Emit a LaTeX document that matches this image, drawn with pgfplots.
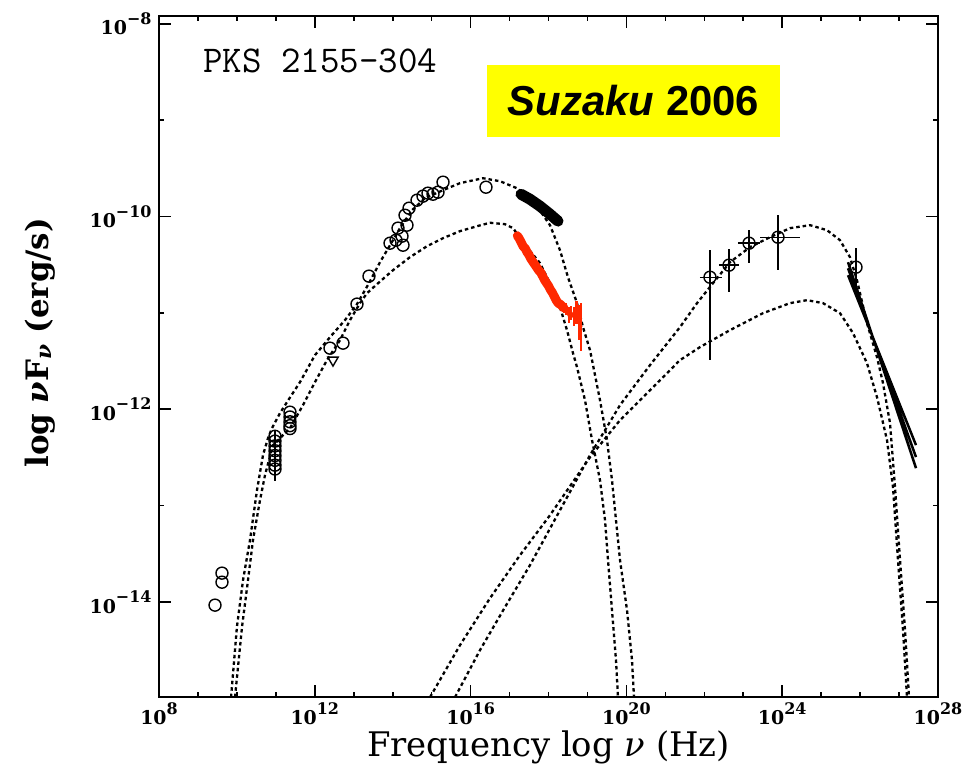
\documentclass[border=0pt]{standalone}
\usepackage{pgfplots}
\pgfplotsset{compat=1.18}
\usepackage{fontspec}
\setmainfont{DejaVu Serif}
\newfontfamily\labelsans{Liberation Sans}
\definecolor{xrayred}{RGB}{255,40,0}
\definecolor{boxyellow}{RGB}{255,255,0}
% power-of-ten tick label: bold "10" with a large raised exponent, always in text mode
\newcommand{\powten}[1]{\hbox{\fontsize{19}{21}\selectfont\bfseries 10\raise 10.5bp\hbox{\fontsize{16}{16}\selectfont\bfseries #1}}}
\pgfplotsset{
  sedmodel/.style={black, line width=2.3bp, dash pattern=on 3.5bp off 3bp, mark=none},
  sedpoint/.style={only marks, mark=o, mark size=6bp, mark options={line width=1.4bp, black}},
}

\begin{document}
\begin{tikzpicture}
\path[use as bounding box] (0,0) rectangle (975bp,770bp);
\begin{axis}[
  at={(159bp,73bp)}, anchor=south west,
  width=779bp, height=681bp, scale only axis,
  xmin=8, xmax=28, ymin=-14.985, ymax=-7.92,
  xtick={8,12,16,20,24,28},
  xticklabels={\powten{8},\powten{12},\powten{16},\powten{20},\powten{24},\powten{28}},
  minor xtick={9,10,11,13,14,15,17,18,19,21,22,23,25,26,27},
  ytick={-14,-12,-10,-8},
  yticklabels={\powten{−14},\powten{−12},\powten{−10},\powten{−8}},
  minor ytick={-13,-11,-9},
  major tick length=12bp, minor tick length=5bp,
  tick style={line width=1.6bp, black},
  axis line style={line width=1.6bp},
  xticklabel style={yshift=-2bp},
  yticklabel style={xshift=-4bp},
  xlabel={Frequency log \textit{ν} (Hz)},
  xlabel style={font=\fontsize{34}{38}\selectfont, inner sep=0pt, at={(axis description cs:0.5,-0.0735)}, anchor=center},
  ylabel={log \textit{ν}F\textsubscript{\textit{ν}} (erg/s)},
  ylabel style={font=\bfseries\fontsize{31}{35}\selectfont, at={(axis description cs:-0.153,0.52)}, anchor=center},
  unbounded coords=jump,
]

% synchrotron models (high and low state)
\addplot[sedmodel] table {
lx ly
9.850 -14.987
10.000 -14.260
10.157 -13.773
10.336 -13.358
10.516 -12.839
10.670 -12.476
10.798 -12.300
10.901 -12.196
11.106 -12.040
11.286 -11.926
11.620 -11.718
12.005 -11.438
12.390 -11.252
12.775 -11.075
13.083 -10.909
13.391 -10.692
13.674 -10.474
13.931 -10.298
14.187 -10.121
14.496 -9.935
14.829 -9.810
15.292 -9.727
15.728 -9.654
16.318 -9.603
16.755 -9.634
17.191 -9.707
17.653 -9.862
18.038 -10.090
18.295 -10.350
18.500 -10.630
18.732 -10.899
18.886 -11.148
19.066 -11.387
19.322 -11.905
19.502 -12.320
19.630 -12.735
19.733 -13.150
19.836 -13.565
20.016 -14.084
20.144 -14.603
20.195 -14.987
};
\addplot[sedmodel] table {
lx ly
9.951 -14.987
10.131 -14.260
10.285 -13.773
10.413 -13.358
10.593 -12.943
10.721 -12.684
10.927 -12.372
11.184 -12.268
11.363 -12.196
11.697 -11.957
12.005 -11.718
12.313 -11.490
12.647 -11.283
12.904 -11.075
13.160 -10.899
13.340 -10.796
13.597 -10.702
14.008 -10.557
14.444 -10.422
14.881 -10.308
15.292 -10.225
15.728 -10.152
16.164 -10.101
16.498 -10.065
16.883 -10.080
17.089 -10.121
17.448 -10.318
17.782 -10.484
18.038 -10.692
18.295 -10.941
18.475 -11.179
18.629 -11.418
18.732 -11.563
18.937 -11.905
19.117 -12.320
19.322 -12.735
19.451 -13.150
19.528 -13.565
19.630 -14.084
19.733 -14.603
19.784 -14.987
};

% inverse Compton models (high and low state)
\addplot[sedmodel] table {
lx ly
15.600 -14.987
16.241 -14.499
16.883 -14.053
17.525 -13.617
18.295 -13.047
19.066 -12.476
19.836 -11.957
20.606 -11.542
21.376 -11.148
21.813 -10.899
22.223 -10.692
22.660 -10.474
23.173 -10.318
23.687 -10.215
24.200 -10.121
24.714 -10.090
25.150 -10.142
25.484 -10.246
25.740 -10.422
25.920 -10.661
26.177 -11.107
26.434 -11.459
26.588 -11.729
26.768 -12.144
26.896 -12.808
27.025 -13.565
27.153 -14.291
27.256 -14.987
};
\addplot[sedmodel] table {
lx ly
14.958 -14.987
15.728 -14.447
16.498 -13.960
17.268 -13.514
18.038 -13.099
19.066 -12.497
19.836 -12.113
20.606 -11.802
21.376 -11.490
21.890 -11.355
22.660 -11.179
23.507 -11.003
24.200 -10.899
24.637 -10.868
25.048 -10.899
25.484 -11.003
25.818 -11.210
26.177 -11.522
26.434 -11.874
26.691 -12.320
26.845 -12.808
26.973 -13.565
27.102 -14.291
27.204 -14.987
};

% radio data
\addplot[sedpoint] table {
lx ly
9.438 -14.032
9.617 -13.700
9.617 -13.794
};
\addplot[black, line width=1.4bp, mark=none] table {
lx ly
10.978 -12.22
10.978 -12.74
};
\addplot[sedpoint] table {
lx ly
10.978 -12.28
10.978 -12.33
10.978 -12.38
10.978 -12.43
10.978 -12.48
10.978 -12.53
10.978 -12.58
10.978 -12.62
11.363 -12.03
11.363 -12.08
11.363 -12.13
11.363 -12.17
11.363 -12.20
};

% IR / optical / UV data
\addplot[sedpoint] table {
lx ly
12.390 -11.366
12.724 -11.314
13.083 -10.909
13.391 -10.619
13.931 -10.277
14.085 -10.246
14.136 -10.121
14.239 -10.204
14.265 -10.298
14.316 -9.987
14.367 -10.090
14.419 -9.914
14.624 -9.831
14.778 -9.789
14.906 -9.758
15.035 -9.769
15.163 -9.748
15.292 -9.644
16.395 -9.696
};
% upper limit
\addplot[only marks, mark=triangle, mark size=6bp, mark options={rotate=180, line width=1.4bp, black}] table {
lx ly
12.467 -11.49
};

% X-ray spectrum, earlier high state
\addplot[black, line width=11bp, line cap=round, mark=none] table {
lx ly
17.294 -9.769
17.525 -9.821
17.782 -9.893
18.038 -9.976
18.244 -10.048
};

% Suzaku 2006 X-ray spectrum
\addplot[xrayred, line width=9bp, line cap=round, line join=round, mark=none] table {
lx ly
17.20 -10.20
17.25 -10.23
17.30 -10.27
17.35 -10.31
17.40 -10.33
17.45 -10.37
17.50 -10.40
17.55 -10.44
17.60 -10.47
17.65 -10.50
17.70 -10.53
17.75 -10.56
17.80 -10.58
17.85 -10.62
17.90 -10.66
17.95 -10.69
18.00 -10.72
18.05 -10.76
18.10 -10.79
18.15 -10.83
18.20 -10.87
18.25 -10.90
18.30 -10.91
18.35 -10.93
18.40 -10.95
};
\addplot[xrayred, line width=2.5bp, mark=none] table {
lx ly
18.40 -10.90
18.40 -11.00
nan nan
18.45 -10.90
18.45 -11.02
nan nan
18.52 -10.94
18.52 -11.10
nan nan
18.58 -10.93
18.58 -11.07
nan nan
18.65 -10.94
18.65 -11.14
nan nan
18.72 -10.88
18.72 -11.12
nan nan
18.78 -10.92
18.78 -11.28
nan nan
18.84 -10.90
18.84 -11.40
};
\addplot[xrayred, line width=3bp, mark=none] table {
lx ly
18.40 -10.95
18.45 -10.96
18.52 -11.02
18.58 -11.00
18.65 -11.04
18.72 -11.00
18.78 -11.10
18.84 -11.15
};

% GeV data: error bars, then points
\addplot[black, line width=1.4bp, mark=none] table {
lx ly
21.889 -10.630
22.456 -10.630
nan nan
22.146 -10.350
22.146 -11.491
nan nan
22.377 -10.505
22.891 -10.505
nan nan
22.634 -10.339
22.634 -10.785
nan nan
22.865 -10.277
23.431 -10.277
nan nan
23.148 -10.142
23.148 -10.484
nan nan
23.431 -10.215
24.458 -10.215
nan nan
23.892 -9.987
23.892 -10.557
nan nan
25.895 -10.329
25.895 -10.713
};
\addplot[sedpoint] table {
lx ly
22.146 -10.630
22.634 -10.505
23.148 -10.277
23.892 -10.215
25.895 -10.526
};

% TeV spectrum bow tie
\addplot[black, line width=2.5bp, mark=none] table {
lx ly
25.690 -10.474
27.435 -12.611
nan nan
25.690 -10.609
27.435 -12.372
nan nan
25.690 -10.537
27.435 -12.496
};
\end{axis}
% source name and campaign label
\node[anchor=base west, inner sep=0, font=\ttfamily\fontsize{38}{40}\selectfont]
  at (203bp,697bp) {PKS 2155\textendash 304};
\node[fill=boxyellow, minimum width=293bp, minimum height=72bp, inner sep=0,
  font=\labelsans\bfseries\fontsize{42}{46}\selectfont]
  at (633.5bp,669bp) {\itshape Suzaku\upshape\ 2006};
\end{tikzpicture}
\end{document}
